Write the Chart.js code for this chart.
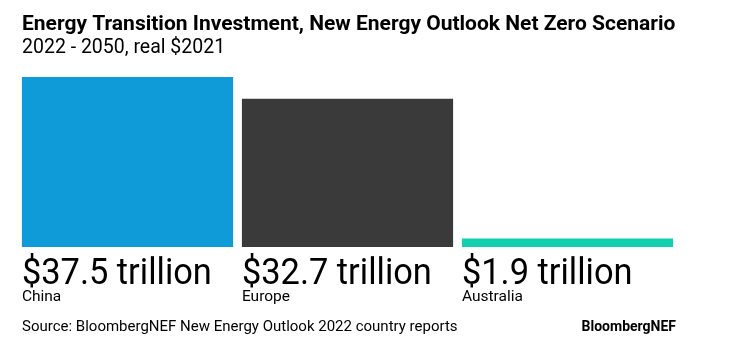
<!DOCTYPE html>
<html>
<head>
<meta charset="utf-8">
<script src="https://cdn.jsdelivr.net/npm/chart.js@4"></script>
<style>
    html, body { margin: 0; padding: 0; background: #fff; }
    #wrap { width: 732px; height: 351px; position: relative; }
</style>
</head>
<body>
<div id="wrap"><canvas id="chart"></canvas></div>
<script>
// Data
const regions = ['China', 'Europe', 'Australia'];
const investment = [37.5, 32.7, 1.9]; // trillion USD, real 2021
const barColors = ['#0f9bd8', '#3a3a3a', '#10d0b0'];

const titleText = 'Energy Transition Investment, New Energy Outlook Net Zero Scenario';
const subtitleText = '2022 - 2050, real $2021';
const sourceText = 'Source: BloombergNEF New Energy Outlook 2022 country reports';
const brandText = 'BloombergNEF';

const FONT = 'Roboto, "Liberation Sans", Arial, sans-serif';

// draw text squeezed horizontally, a bit like the condensed house font
function squeezed(ctx, text, x, y, squeeze) {
    const w = ctx.measureText(text).width;
    ctx.fillText(text, x, y, w * squeeze);
}

const textPlugin = {
    id: 'textPlugin',
    afterDraw(chart) {
        const ctx = chart.ctx;
        const meta = chart.getDatasetMeta(0);
        ctx.save();
        ctx.fillStyle = '#000';
        ctx.textBaseline = 'alphabetic';
        ctx.textAlign = 'left';

        // title + subtitle
        ctx.font = 'bold 21px ' + FONT;
        squeezed(ctx, titleText, 22, 30, 1);
        ctx.font = '19.5px ' + FONT;
        squeezed(ctx, subtitleText, 22, 53, 1);

        // value and region labels under each bar
        meta.data.forEach((bar, i) => {
            const left = bar.x - bar.width / 2;
            ctx.font = '37px ' + FONT;
            squeezed(ctx, '$' + investment[i].toFixed(1) + ' trillion', left, 284, 0.93);
            ctx.font = '15.5px ' + FONT;
            squeezed(ctx, regions[i], left, 301, 1);
        });

        // footer
        ctx.font = '15px ' + FONT;
        squeezed(ctx, sourceText, 22, 331, 1);
        ctx.font = 'bold 14px ' + FONT;
        ctx.textAlign = 'right';
        squeezed(ctx, brandText, 676, 331, 1);
        ctx.restore();
    }
};

new Chart(document.getElementById('chart'), {
    type: 'bar',
    data: {
        labels: regions,
        datasets: [{
            data: investment,
            backgroundColor: barColors,
            borderWidth: 0,
            categoryPercentage: 1,
            barPercentage: 0.96
        }]
    },
    options: {
        responsive: true,
        maintainAspectRatio: false,
        animation: false,
        layout: {
            padding: { top: 77, left: 17.5, right: 54.5, bottom: 104 }
        },
        plugins: {
            legend: { display: false },
            tooltip: { enabled: false }
        },
        scales: {
            x: { display: false },
            y: { display: false, min: 0, max: 37.5 }
        }
    },
    plugins: [textPlugin]
});
</script>
</body>
</html>
